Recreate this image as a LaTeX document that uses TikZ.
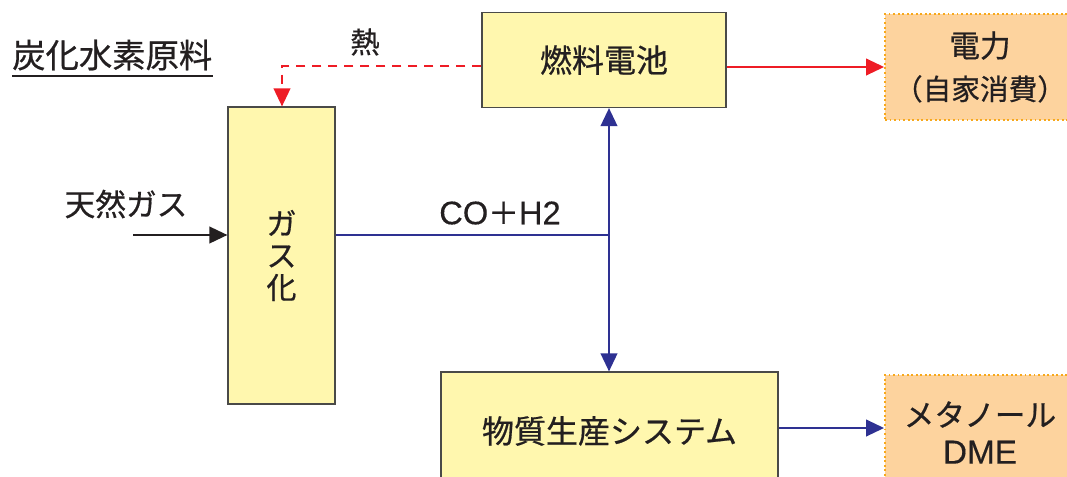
\documentclass[tikz,border=0pt]{standalone}
\usepackage{fontspec}
\setmainfont{Noto Sans CJK JP}[FakeBold=0.6]
\newfontfamily\lat{Liberation Sans}[FakeBold=0.3]
\usetikzlibrary{arrows.meta}
\definecolor{boxyellow}{HTML}{FFF7AE}
\definecolor{boxedge}{HTML}{4A4A48}
\definecolor{outorange}{HTML}{FDD39E}
\definecolor{dotorange}{HTML}{F7A81B}
\definecolor{myred}{HTML}{EE1C25}
\definecolor{myblue}{HTML}{2E3192}
\definecolor{txt}{HTML}{231F20}
\tikzset{
  procbox/.style={draw=boxedge, fill=boxyellow, line width=0.9pt, inner sep=0pt, text=txt},
  outbox/.style={draw=dotorange, fill=outorange, dotted, line width=1.4pt, inner sep=0pt, text=txt, align=center},
  lbl/.style={inner sep=0pt, text=txt},
  tipA/.style={-{Triangle[length=13.5pt,width=12.5pt]}},
  redline/.style={draw=myred, line width=1.4pt},
  blueline/.style={draw=myblue, line width=1.4pt},
}
\begin{document}
\begin{tikzpicture}[x=0.75pt,y=-0.75pt]
\useasboundingbox (0,0) rectangle (1067,476);
% boxes
\node[procbox, minimum width=183pt, minimum height=71.25pt, font=\fontsize{24}{28}\selectfont] (fc) at (604,60) {燃料電池};
\node[procbox, minimum width=80.25pt, minimum height=222.75pt, align=center, font=\fontsize{22.5}{24}\selectfont] (gas) at (281.5,255.5) {ガ\\ス\\化};
\node[procbox, minimum width=252.75pt, minimum height=88.5pt, font=\fontsize{24}{28}\selectfont] (prod) at (609.5,431) {物質生産システム};
\node[outbox, minimum width=142.5pt, minimum height=79.5pt, font=\fontsize{23}{32}\selectfont] (elec) at (980,67) {電力\\{\fontsize{21.5}{32}\selectfont（自家消費）}};
\node[outbox, minimum width=142.5pt, minimum height=86.25pt, font=\fontsize{23}{28}\selectfont] (meth) at (980,432.5) {メタノール\\{\lat\fontsize{25}{28}\selectfont DME}};
% labels
\node[lbl, font=\fontsize{25}{28}\selectfont, anchor=west] (title) at (12,55) {炭化水素原料};
\draw[txt, line width=1.2pt] ([yshift=-4pt]title.south west) -- ([yshift=-4pt]title.south east);
\node[lbl, font=\fontsize{22}{26}\selectfont] (heat) at (365,42) {熱};
\node[lbl, font=\fontsize{23}{26}\selectfont] (syn) at (500,213) {{\lat\fontsize{24.5}{26}\selectfont CO}＋{\lat\fontsize{24.5}{26}\selectfont H2}};
\node[lbl, font=\fontsize{23}{26}\selectfont] (ng) at (126,204) {天然ガス};
% connectors
\coordinate (ngs) at (133,235);
\draw[tipA, txt, line width=1.4pt] (ngs) -- (ngs -| gas.west);
\coordinate (hc) at (282,66);
\draw[redline, dashed, dash pattern=on 7pt off 5pt, tipA] (fc.west |- hc) -- (hc) -- (hc |- gas.north);
\draw[redline, tipA] (fc.east |- elec.west) -- (elec.west);
\coordinate (j) at (609,235);
\draw[blueline] (gas.east |- j) -- (j);
\draw[blueline, tipA] (j) -- (j |- fc.south);
\draw[blueline, tipA] (j) -- (j |- prod.north);
\draw[blueline, tipA] (prod.east |- 0,428) -- (meth.west |- 0,428);
\end{tikzpicture}
\end{document}
